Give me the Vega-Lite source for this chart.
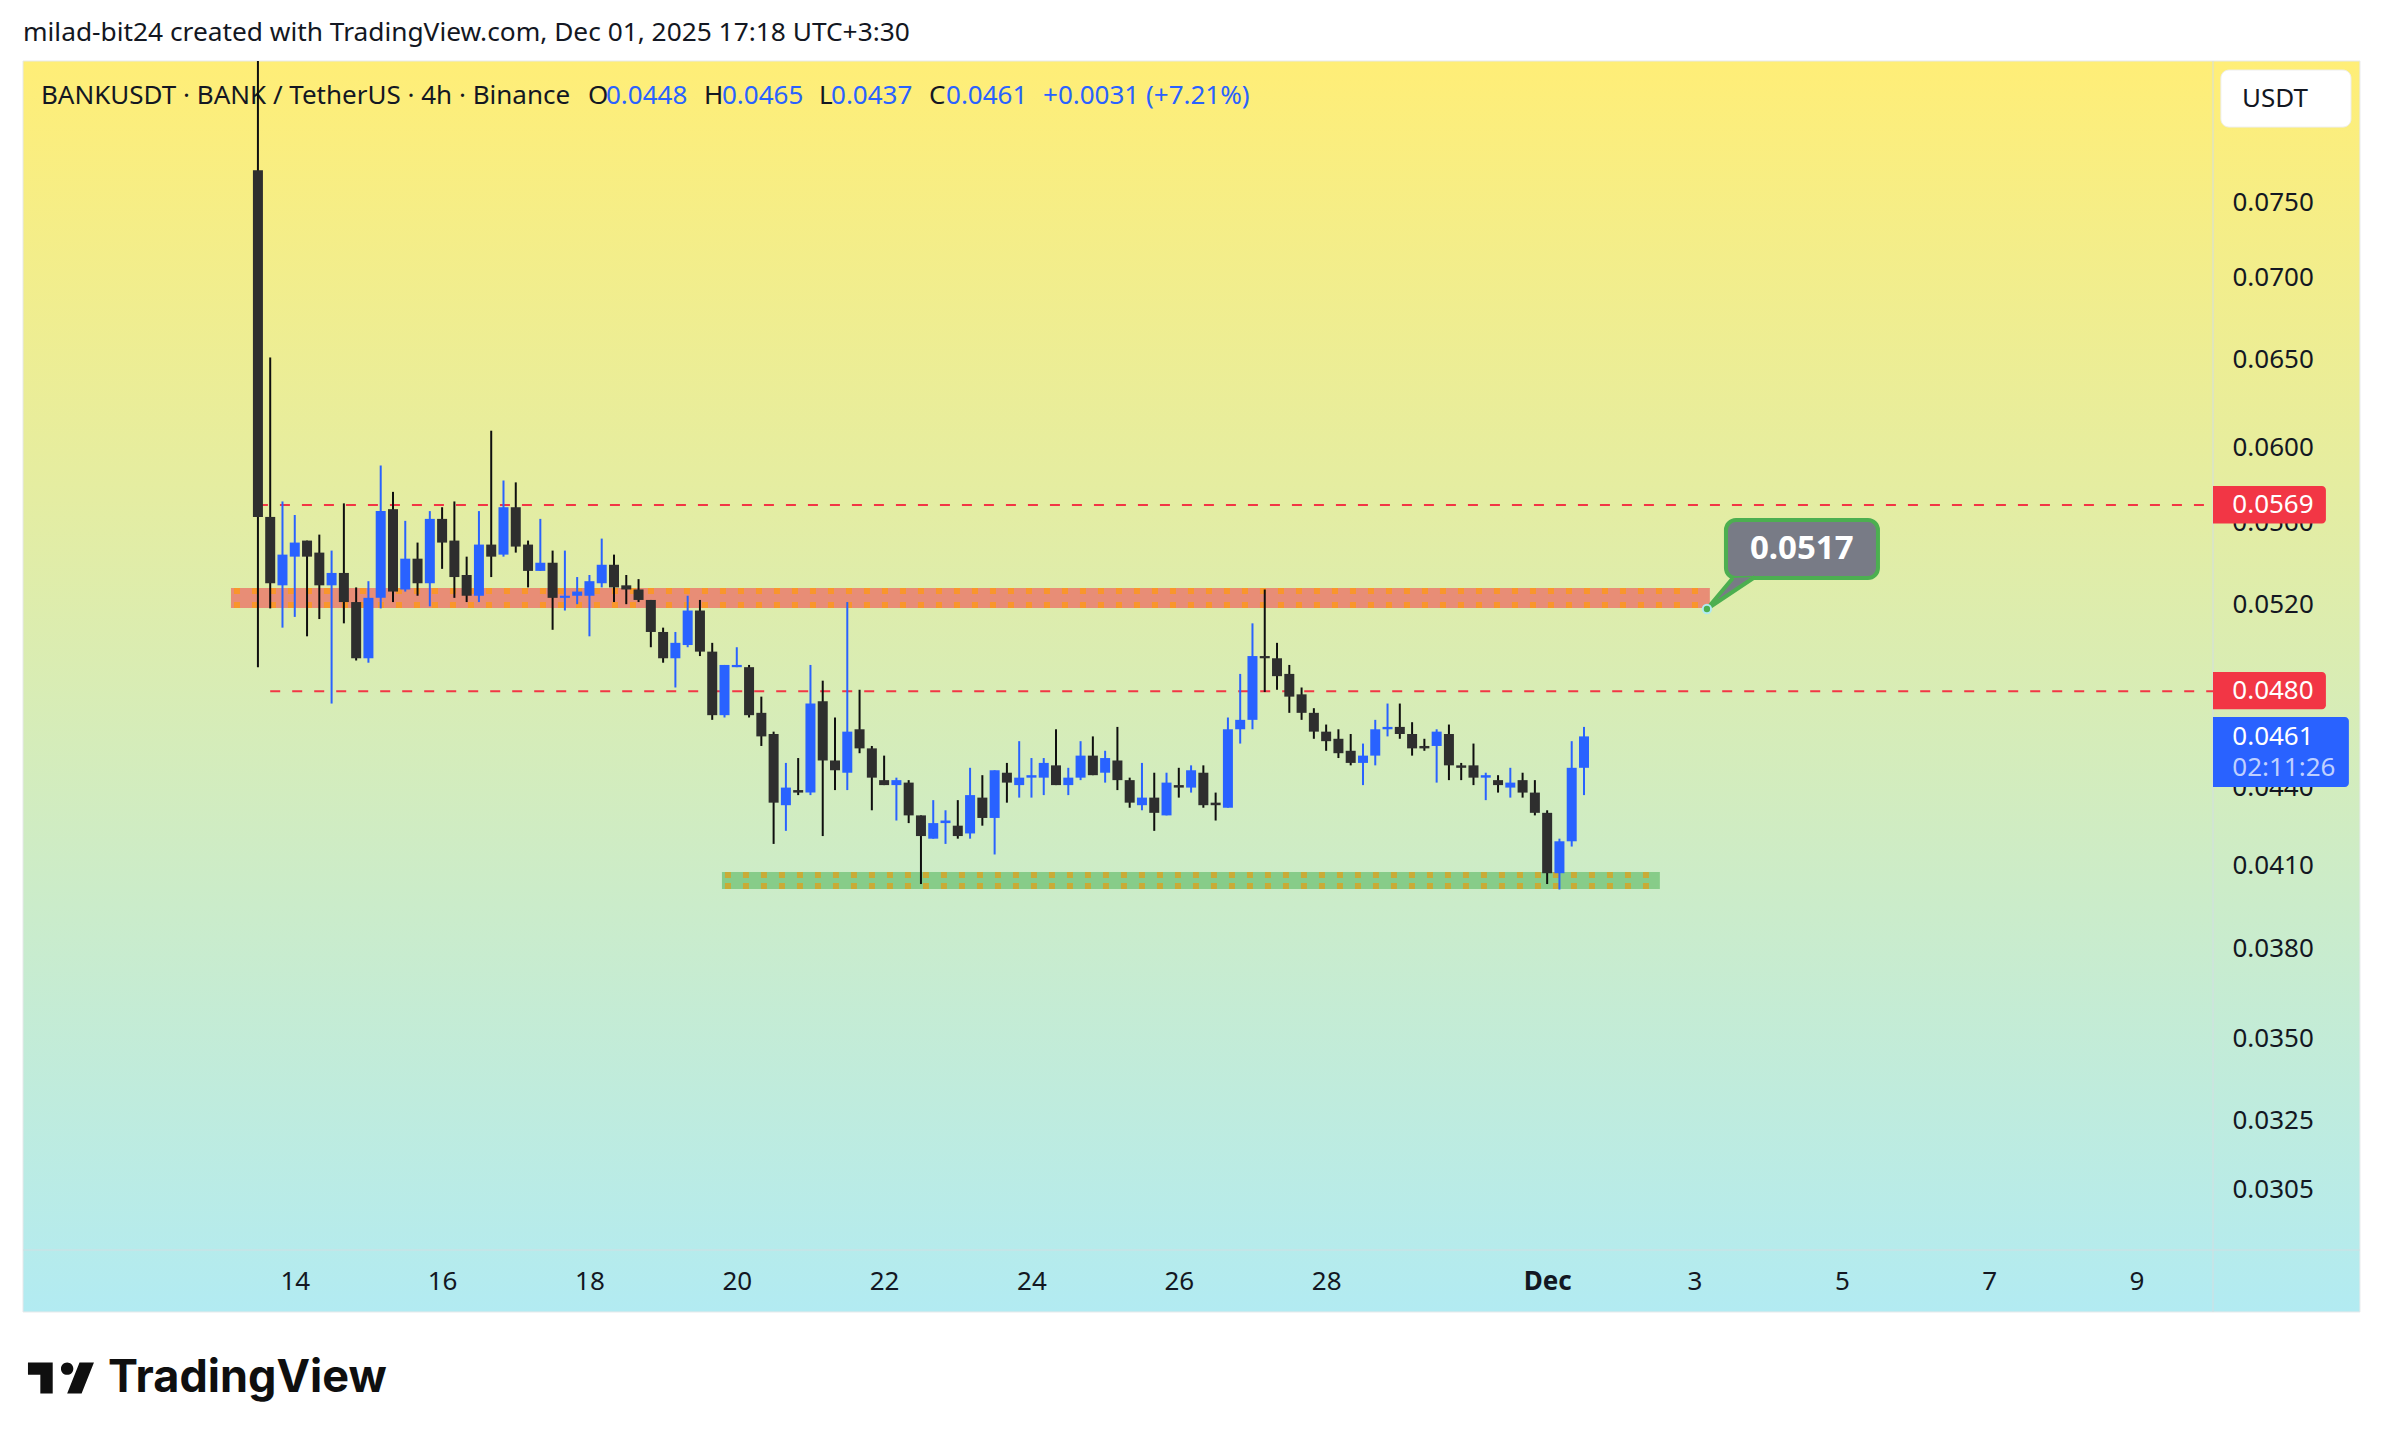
{"$schema":"https://vega.github.io/schema/vega-lite/v6.json","width":2190,"height":1189,"autosize":{"type":"none"},"padding":{"left":23,"top":61,"right":170,"bottom":197},"background":"#ffffff","view":{"stroke":null},
"title":{"text":"milad-bit24 created with TradingView.com, Dec 01, 2025 17:18 UTC+3:30","anchor":"start","frame":"group","offset":14,"font":"Noto Sans","fontSize":26.3,"fontWeight":"normal","color":"#131722"},
"config":{"text":{"font":"Noto Sans"}},
"datasets":{"candles":[
{"t":"2025-11-13T12:00Z","o":0.0772,"h":0.09,"l":0.0491,"c":0.0563},
{"t":"2025-11-13T16:00Z","o":0.0563,"h":0.0651,"l":0.0518,"c":0.053},
{"t":"2025-11-13T20:00Z","o":0.0529,"h":0.0571,"l":0.0509,"c":0.0544},
{"t":"2025-11-14T00:00Z","o":0.0543,"h":0.0564,"l":0.0514,"c":0.055},
{"t":"2025-11-14T04:00Z","o":0.0551,"h":0.0551,"l":0.0505,"c":0.0543},
{"t":"2025-11-14T08:00Z","o":0.0545,"h":0.0554,"l":0.0513,"c":0.0529},
{"t":"2025-11-14T12:00Z","o":0.0529,"h":0.0546,"l":0.0475,"c":0.0535},
{"t":"2025-11-14T16:00Z","o":0.0535,"h":0.057,"l":0.0511,"c":0.0521},
{"t":"2025-11-14T20:00Z","o":0.0521,"h":0.0528,"l":0.0494,"c":0.0495},
{"t":"2025-11-15T00:00Z","o":0.0495,"h":0.0531,"l":0.0493,"c":0.0523},
{"t":"2025-11-15T04:00Z","o":0.0523,"h":0.059,"l":0.0518,"c":0.0566},
{"t":"2025-11-15T08:00Z","o":0.0567,"h":0.0576,"l":0.0521,"c":0.0526},
{"t":"2025-11-15T12:00Z","o":0.0527,"h":0.0561,"l":0.0526,"c":0.0542},
{"t":"2025-11-15T16:00Z","o":0.0542,"h":0.055,"l":0.0524,"c":0.053},
{"t":"2025-11-15T20:00Z","o":0.053,"h":0.0566,"l":0.0519,"c":0.0562},
{"t":"2025-11-16T00:00Z","o":0.0562,"h":0.0568,"l":0.0537,"c":0.055},
{"t":"2025-11-16T04:00Z","o":0.0551,"h":0.0571,"l":0.0523,"c":0.0533},
{"t":"2025-11-16T08:00Z","o":0.0534,"h":0.0543,"l":0.0521,"c":0.0524},
{"t":"2025-11-16T12:00Z","o":0.0524,"h":0.0566,"l":0.0521,"c":0.0549},
{"t":"2025-11-16T16:00Z","o":0.0549,"h":0.0609,"l":0.0533,"c":0.0543},
{"t":"2025-11-16T20:00Z","o":0.0544,"h":0.0582,"l":0.0543,"c":0.0568},
{"t":"2025-11-17T00:00Z","o":0.0568,"h":0.0581,"l":0.0545,"c":0.0548},
{"t":"2025-11-17T04:00Z","o":0.0549,"h":0.0551,"l":0.0528,"c":0.0536},
{"t":"2025-11-17T08:00Z","o":0.0536,"h":0.0562,"l":0.0536,"c":0.054},
{"t":"2025-11-17T12:00Z","o":0.054,"h":0.0546,"l":0.0508,"c":0.0523},
{"t":"2025-11-17T16:00Z","o":0.0523,"h":0.0546,"l":0.0517,"c":0.0524},
{"t":"2025-11-17T20:00Z","o":0.0524,"h":0.0533,"l":0.052,"c":0.0526},
{"t":"2025-11-18T00:00Z","o":0.0524,"h":0.0534,"l":0.0505,"c":0.0531},
{"t":"2025-11-18T04:00Z","o":0.053,"h":0.0552,"l":0.0528,"c":0.0539},
{"t":"2025-11-18T08:00Z","o":0.0539,"h":0.0544,"l":0.0521,"c":0.0528},
{"t":"2025-11-18T12:00Z","o":0.0529,"h":0.0534,"l":0.052,"c":0.0527},
{"t":"2025-11-18T16:00Z","o":0.0527,"h":0.0532,"l":0.0521,"c":0.0522},
{"t":"2025-11-18T20:00Z","o":0.0522,"h":0.0522,"l":0.05,"c":0.0507},
{"t":"2025-11-19T00:00Z","o":0.0507,"h":0.0509,"l":0.0493,"c":0.0495},
{"t":"2025-11-19T04:00Z","o":0.0495,"h":0.0507,"l":0.0482,"c":0.0502},
{"t":"2025-11-19T08:00Z","o":0.0501,"h":0.0524,"l":0.05,"c":0.0517},
{"t":"2025-11-19T12:00Z","o":0.0517,"h":0.0522,"l":0.0496,"c":0.0498},
{"t":"2025-11-19T16:00Z","o":0.0498,"h":0.0502,"l":0.0468,"c":0.047},
{"t":"2025-11-19T20:00Z","o":0.047,"h":0.0492,"l":0.0469,"c":0.0492},
{"t":"2025-11-20T00:00Z","o":0.0491,"h":0.05,"l":0.0491,"c":0.0492},
{"t":"2025-11-20T04:00Z","o":0.0491,"h":0.0492,"l":0.0469,"c":0.047},
{"t":"2025-11-20T08:00Z","o":0.0471,"h":0.0478,"l":0.0457,"c":0.0461},
{"t":"2025-11-20T12:00Z","o":0.0462,"h":0.0463,"l":0.0418,"c":0.0434},
{"t":"2025-11-20T16:00Z","o":0.0433,"h":0.045,"l":0.0423,"c":0.044},
{"t":"2025-11-20T20:00Z","o":0.0439,"h":0.0452,"l":0.0437,"c":0.0438},
{"t":"2025-11-21T00:00Z","o":0.0438,"h":0.0492,"l":0.0437,"c":0.0475},
{"t":"2025-11-21T04:00Z","o":0.0476,"h":0.0485,"l":0.0421,"c":0.0451},
{"t":"2025-11-21T08:00Z","o":0.0451,"h":0.0469,"l":0.0439,"c":0.0447},
{"t":"2025-11-21T12:00Z","o":0.0446,"h":0.0521,"l":0.0439,"c":0.0463},
{"t":"2025-11-21T16:00Z","o":0.0464,"h":0.0481,"l":0.0454,"c":0.0456},
{"t":"2025-11-21T20:00Z","o":0.0456,"h":0.0457,"l":0.0431,"c":0.0444},
{"t":"2025-11-22T00:00Z","o":0.0443,"h":0.0453,"l":0.0441,"c":0.0441},
{"t":"2025-11-22T04:00Z","o":0.0441,"h":0.0444,"l":0.0427,"c":0.0443},
{"t":"2025-11-22T08:00Z","o":0.0442,"h":0.0443,"l":0.0426,"c":0.0429},
{"t":"2025-11-22T12:00Z","o":0.0429,"h":0.0429,"l":0.0403,"c":0.0421},
{"t":"2025-11-22T16:00Z","o":0.042,"h":0.0435,"l":0.042,"c":0.0426},
{"t":"2025-11-22T20:00Z","o":0.0426,"h":0.0431,"l":0.0418,"c":0.0427},
{"t":"2025-11-23T00:00Z","o":0.0425,"h":0.0435,"l":0.042,"c":0.0421},
{"t":"2025-11-23T04:00Z","o":0.0422,"h":0.0448,"l":0.042,"c":0.0437},
{"t":"2025-11-23T08:00Z","o":0.0436,"h":0.0445,"l":0.0425,"c":0.0428},
{"t":"2025-11-23T12:00Z","o":0.0428,"h":0.0447,"l":0.0414,"c":0.0447},
{"t":"2025-11-23T16:00Z","o":0.0446,"h":0.045,"l":0.0434,"c":0.0442},
{"t":"2025-11-23T20:00Z","o":0.0441,"h":0.0459,"l":0.0436,"c":0.0444},
{"t":"2025-11-24T00:00Z","o":0.0444,"h":0.0452,"l":0.0436,"c":0.0445},
{"t":"2025-11-24T04:00Z","o":0.0444,"h":0.0452,"l":0.0437,"c":0.045},
{"t":"2025-11-24T08:00Z","o":0.0449,"h":0.0464,"l":0.0441,"c":0.0441},
{"t":"2025-11-24T12:00Z","o":0.0441,"h":0.0448,"l":0.0437,"c":0.0444},
{"t":"2025-11-24T16:00Z","o":0.0444,"h":0.0459,"l":0.0443,"c":0.0453},
{"t":"2025-11-24T20:00Z","o":0.0453,"h":0.0461,"l":0.0445,"c":0.0445},
{"t":"2025-11-25T00:00Z","o":0.0446,"h":0.0455,"l":0.0442,"c":0.0452},
{"t":"2025-11-25T04:00Z","o":0.0451,"h":0.0465,"l":0.0439,"c":0.0443},
{"t":"2025-11-25T08:00Z","o":0.0443,"h":0.0444,"l":0.0432,"c":0.0434},
{"t":"2025-11-25T12:00Z","o":0.0433,"h":0.045,"l":0.0431,"c":0.0436},
{"t":"2025-11-25T16:00Z","o":0.0436,"h":0.0446,"l":0.0423,"c":0.043},
{"t":"2025-11-25T20:00Z","o":0.0429,"h":0.0446,"l":0.0429,"c":0.0442},
{"t":"2025-11-26T00:00Z","o":0.0441,"h":0.0448,"l":0.0436,"c":0.044},
{"t":"2025-11-26T04:00Z","o":0.044,"h":0.0449,"l":0.0438,"c":0.0447},
{"t":"2025-11-26T08:00Z","o":0.0446,"h":0.0449,"l":0.0432,"c":0.0433},
{"t":"2025-11-26T12:00Z","o":0.0434,"h":0.0438,"l":0.0427,"c":0.0433},
{"t":"2025-11-26T16:00Z","o":0.0432,"h":0.0469,"l":0.0432,"c":0.0464},
{"t":"2025-11-26T20:00Z","o":0.0464,"h":0.0488,"l":0.0458,"c":0.0468},
{"t":"2025-11-27T00:00Z","o":0.0468,"h":0.0511,"l":0.0464,"c":0.0496},
{"t":"2025-11-27T04:00Z","o":0.0496,"h":0.0527,"l":0.048,"c":0.0495},
{"t":"2025-11-27T08:00Z","o":0.0495,"h":0.0502,"l":0.0481,"c":0.0487},
{"t":"2025-11-27T12:00Z","o":0.0488,"h":0.0492,"l":0.0471,"c":0.0478},
{"t":"2025-11-27T16:00Z","o":0.0479,"h":0.0482,"l":0.0468,"c":0.0471},
{"t":"2025-11-27T20:00Z","o":0.0471,"h":0.0473,"l":0.046,"c":0.0463},
{"t":"2025-11-28T00:00Z","o":0.0463,"h":0.0466,"l":0.0455,"c":0.0459},
{"t":"2025-11-28T04:00Z","o":0.046,"h":0.0464,"l":0.0452,"c":0.0454},
{"t":"2025-11-28T08:00Z","o":0.0455,"h":0.0462,"l":0.0449,"c":0.045},
{"t":"2025-11-28T12:00Z","o":0.045,"h":0.0458,"l":0.0441,"c":0.0453},
{"t":"2025-11-28T16:00Z","o":0.0453,"h":0.0468,"l":0.0449,"c":0.0464},
{"t":"2025-11-28T20:00Z","o":0.0464,"h":0.0475,"l":0.0461,"c":0.0465},
{"t":"2025-11-29T00:00Z","o":0.0465,"h":0.0475,"l":0.046,"c":0.0462},
{"t":"2025-11-29T04:00Z","o":0.0462,"h":0.0467,"l":0.0453,"c":0.0456},
{"t":"2025-11-29T08:00Z","o":0.0457,"h":0.046,"l":0.0455,"c":0.0456},
{"t":"2025-11-29T12:00Z","o":0.0457,"h":0.0464,"l":0.0442,"c":0.0463},
{"t":"2025-11-29T16:00Z","o":0.0462,"h":0.0466,"l":0.0443,"c":0.0449},
{"t":"2025-11-29T20:00Z","o":0.0449,"h":0.045,"l":0.0443,"c":0.0448},
{"t":"2025-11-30T00:00Z","o":0.0449,"h":0.0458,"l":0.0441,"c":0.0444},
{"t":"2025-11-30T04:00Z","o":0.0444,"h":0.0446,"l":0.0435,"c":0.0445},
{"t":"2025-11-30T08:00Z","o":0.0443,"h":0.0445,"l":0.0438,"c":0.0441},
{"t":"2025-11-30T12:00Z","o":0.044,"h":0.0448,"l":0.0436,"c":0.0442},
{"t":"2025-11-30T16:00Z","o":0.0443,"h":0.0446,"l":0.0436,"c":0.0438},
{"t":"2025-11-30T20:00Z","o":0.0438,"h":0.0443,"l":0.0429,"c":0.043},
{"t":"2025-12-01T00:00Z","o":0.043,"h":0.0431,"l":0.0403,"c":0.0407},
{"t":"2025-12-01T04:00Z","o":0.0407,"h":0.042,"l":0.0401,"c":0.0419},
{"t":"2025-12-01T08:00Z","o":0.0419,"h":0.0459,"l":0.0417,"c":0.0448},
{"t":"2025-12-01T12:00Z","o":0.0448,"h":0.0465,"l":0.0437,"c":0.0461}
]},
"encoding":{
"x":{"field":"t","type":"temporal","title":null,"scale":{"type":"utc","domain":["2025-11-10T07:28:00Z","2025-12-10T00:55:00Z"],"nice":false,"padding":0},"axis":{"zindex":1,"domain":false,"ticks":false,"grid":false,"title":null,"labelFont":"Noto Sans","labelFontSize":26,"labelColor":"#131722","labelPadding":31,"labelBaseline":"middle","labelOverlap":false,"labelBound":false,"labelFlush":false,"labelExpr":"utcdate(datum.value)==1?'Dec':utcdate(datum.value)","labelFontWeight":{"condition":{"test":"utcdate(datum.value)==1","value":"bold"},"value":"normal"},"values":[{"year":2025,"month":11,"date":14,"utc":true},{"year":2025,"month":11,"date":16,"utc":true},{"year":2025,"month":11,"date":18,"utc":true},{"year":2025,"month":11,"date":20,"utc":true},{"year":2025,"month":11,"date":22,"utc":true},{"year":2025,"month":11,"date":24,"utc":true},{"year":2025,"month":11,"date":26,"utc":true},{"year":2025,"month":11,"date":28,"utc":true},{"year":2025,"month":12,"date":1,"utc":true},{"year":2025,"month":12,"date":3,"utc":true},{"year":2025,"month":12,"date":5,"utc":true},{"year":2025,"month":12,"date":7,"utc":true},{"year":2025,"month":12,"date":9,"utc":true}]}},
"y":{"field":"p","type":"quantitative","title":null,"scale":{"type":"log","domain":[0.028877,0.08528],"nice":false,"zero":false},"axis":{"orient":"right","zindex":1,"domain":false,"ticks":false,"grid":false,"title":null,"format":".4f","labelFont":"Noto Sans","labelFontSize":26,"labelColor":"#131722","labelPadding":19,"labelAlign":"left","labelBaseline":"middle","labelOverlap":false,"values":[0.075,0.07,0.065,0.06,0.052,0.041,0.038,0.035,0.0325,0.0305]}}
},
"layer":[
{"data":{"values":[{"t":"2025-11-10T07:28:00Z","t2":"2025-12-12T00:47:00Z","p":0.08528,"p2":0.027292}],"format":{"parse":{"t":"date","t2":"date"}}},"mark":{"type":"rect","clip":false,"stroke":"#e6e8ea","strokeWidth":1,"fill":{"gradient":"linear","x1":0,"y1":0,"x2":0,"y2":1,"stops":[{"offset":0,"color":"#ffee77"},{"offset":1,"color":"#b2ebf2"}]}},"encoding":{"x2":{"field":"t2"},"y2":{"field":"p2"}}},
{"data":{"values":[{"t":"2025-11-10T07:28:00Z","t2":"2025-12-12T00:47:00Z","p":0.028877}],"format":{"parse":{"t":"date","t2":"date"}}},"mark":{"type":"rule","clip":false,"color":"#d3dee2","strokeWidth":1},"encoding":{"x2":{"field":"t2"}}},
{"data":{"values":[{"t":"2025-12-10T00:55:00Z","p":0.08528,"p2":0.027292}],"format":{"parse":{"t":"date"}}},"mark":{"type":"rule","clip":false,"color":"#d3dee2","strokeWidth":1},"encoding":{"y2":{"field":"p2"}}},
{"data":{"values":[{"t":"2025-11-10T13:19:00Z","p":0.0826,"label":"BANKUSDT · BANK / TetherUS · 4h · Binance"},{"t":"2025-11-17T23:31:00Z","p":0.0826,"label":"O"},{"t":"2025-11-19T13:19:00Z","p":0.0826,"label":"H"},{"t":"2025-11-21T02:47:00Z","p":0.0826,"label":"L"},{"t":"2025-11-22T14:37:00Z","p":0.0826,"label":"C"}],"format":{"parse":{"t":"date"}}},"mark":{"type":"text","align":"left","baseline":"middle","fontSize":26,"color":"#131722","clip":false},"encoding":{"text":{"field":"label"}}},
{"data":{"values":[{"t":"2025-11-18T05:23:00Z","p":0.0826,"label":"0.0448"},{"t":"2025-11-19T19:10:00Z","p":0.0826,"label":"0.0465"},{"t":"2025-11-21T06:42:00Z","p":0.0826,"label":"0.0437"},{"t":"2025-11-22T20:10:00Z","p":0.0826,"label":"0.0461"},{"t":"2025-11-24T03:46:00Z","p":0.0826,"label":"+0.0031 (+7.21%)"}],"format":{"parse":{"t":"date"}}},"mark":{"type":"text","align":"left","baseline":"middle","fontSize":26,"color":"#2962ff","clip":false},"encoding":{"text":{"field":"label"}}},
{"data":{"values":[{"t":"2025-11-13T03:13:00Z","t2":"2025-12-03T05:00:00Z","p":0.05277,"p2":0.05182},{"t":"2025-11-19T19:10:00Z","t2":"2025-12-02T12:43:00Z","p":0.04074,"p2":0.04012}],"format":{"parse":{"t":"date","t2":"date"}}},"mark":{"type":"rect"},"encoding":{"x2":{"field":"t2"},"y2":{"field":"p2"},"color":{"condition":{"test":"datum.p>0.05","value":"#e88d76"},"value":"#87cc89"}}},
{"data":{"values":[{"t":"2025-11-13T03:13:00Z","t2":"2025-12-03T05:00:00Z","p":0.05263},{"t":"2025-11-13T03:13:00Z","t2":"2025-12-03T05:00:00Z","p":0.05196},{"t":"2025-11-19T19:10:00Z","t2":"2025-12-02T12:43:00Z","p":0.04063},{"t":"2025-11-19T19:10:00Z","t2":"2025-12-02T12:43:00Z","p":0.04023}],"format":{"parse":{"t":"date","t2":"date"}}},"mark":{"type":"rule","strokeWidth":6,"strokeDash":[6,12],"strokeDashOffset":15},"encoding":{"x2":{"field":"t2"},"color":{"condition":{"test":"datum.p>0.05","value":"#f9962b"},"value":"#c9ab36"}}},
{"data":{"values":[{"t":"2025-11-13T12:00:00Z","t2":"2025-12-10T00:55:00Z","p":0.05691},{"t":"2025-11-13T16:00:00Z","t2":"2025-12-10T00:55:00Z","p":0.04804}],"format":{"parse":{"t":"date","t2":"date"}}},"mark":{"type":"rule","color":"#f23645","strokeWidth":2,"strokeDash":[10,12]},"encoding":{"x2":{"field":"t2"}}},
{"data":{"name":"candles"},"mark":{"type":"rule","strokeWidth":2,"clip":true},"encoding":{"y":{"field":"l","type":"quantitative","title":null},"y2":{"field":"h"},"color":{"condition":{"test":"datum.c>=datum.o","value":"#2962ff"},"value":"#0f0f0f"}}},
{"data":{"name":"candles"},"mark":{"type":"bar","size":10,"clip":true},"encoding":{"y":{"field":"o","type":"quantitative","title":null},"y2":{"field":"c"},"color":{"condition":{"test":"datum.c>=datum.o","value":"#2962ff"},"value":"#2e2e2e"}}},
{"data":{"values":[{"t":"2025-12-03T10:15:00Z","t2":"2025-12-05T11:46:00Z","p":0.05614,"p2":0.05325}],"format":{"parse":{"t":"date","t2":"date"}}},"mark":{"type":"rect","fill":"#787b86","stroke":"#4caf50","strokeWidth":4,"cornerRadius":10},"encoding":{"x2":{"field":"t2"},"y2":{"field":"p2"}}},
{"data":{"values":[{"t":"2025-12-03T04:03:00Z","p":0.05177}],"format":{"parse":{"t":"date"}}},"mark":{"type":"point","filled":true,"opacity":1,"size":10000,"shape":"M0.52 -0.62L0 0L0.96 -0.64","fill":"#787b86","stroke":"#4caf50","strokeWidth":4}},
{"data":{"values":[{"t":"2025-12-03T04:03:00Z","p":0.05177}],"format":{"parse":{"t":"date"}}},"mark":{"type":"point","filled":true,"opacity":1,"size":70,"fill":"#4caf50","stroke":"#b2ebf2","strokeWidth":2}},
{"data":{"values":[{"t":"2025-12-04T10:57:00Z","p":0.05468,"label":"0.0517"}],"format":{"parse":{"t":"date"}}},"mark":{"type":"text","align":"center","baseline":"middle","fontSize":33,"fontWeight":"bold","color":"#ffffff"},"encoding":{"text":{"field":"label"}}},
{"data":{"values":[{"t":"2025-12-10T07:12:00Z","p":0.056,"label":"0.0560"},{"t":"2025-12-10T07:12:00Z","p":0.044,"label":"0.0440"}],"format":{"parse":{"t":"date"}}},"mark":{"type":"text","align":"left","baseline":"middle","fontSize":26,"color":"#131722","clip":false},"encoding":{"text":{"field":"label"}}},
{"data":{"values":[{"t":"2025-12-10T00:55:00Z","t2":"2025-12-11T13:42:00Z","p":0.05791,"p2":0.05597},{"t":"2025-12-10T00:55:00Z","t2":"2025-12-11T13:42:00Z","p":0.04888,"p2":0.04725}],"format":{"parse":{"t":"date","t2":"date"}}},"mark":{"type":"rect","clip":false,"color":"#f23645","cornerRadiusTopRight":4,"cornerRadiusBottomRight":4},"encoding":{"x2":{"field":"t2"},"y2":{"field":"p2"}}},
{"data":{"values":[{"t":"2025-12-10T00:55:00Z","t2":"2025-12-11T21:11:00Z","p":0.04692,"p2":0.04402}],"format":{"parse":{"t":"date","t2":"date"}}},"mark":{"type":"rect","clip":false,"color":"#2962ff","cornerRadiusTopRight":4,"cornerRadiusBottomRight":4},"encoding":{"x2":{"field":"t2"},"y2":{"field":"p2"}}},
{"data":{"values":[{"t":"2025-12-10T07:12:00Z","p":0.05691,"label":"0.0569"},{"t":"2025-12-10T07:12:00Z","p":0.04804,"label":"0.0480"},{"t":"2025-12-10T07:12:00Z","p":0.04607,"label":"0.0461"}],"format":{"parse":{"t":"date"}}},"mark":{"type":"text","align":"left","baseline":"middle","fontSize":26,"color":"#ffffff","clip":false},"encoding":{"text":{"field":"label"}}},
{"data":{"values":[{"t":"2025-12-10T07:12:00Z","p":0.04479,"label":"02:11:26"}],"format":{"parse":{"t":"date"}}},"mark":{"type":"text","align":"left","baseline":"middle","fontSize":26,"color":"#bfd0ff","clip":false},"encoding":{"text":{"field":"label"}}},
{"data":{"values":[{"t":"2025-12-10T03:30:00Z","t2":"2025-12-11T21:52:00Z","p":0.08458,"p2":0.0803}],"format":{"parse":{"t":"date","t2":"date"}}},"mark":{"type":"rect","clip":false,"fill":"#ffffff","stroke":"#eeeeee","strokeWidth":1,"cornerRadius":8},"encoding":{"x2":{"field":"t2"},"y2":{"field":"p2"}}},
{"data":{"values":[{"t":"2025-12-10T10:20:00Z","p":0.08237,"label":"USDT"}],"format":{"parse":{"t":"date"}}},"mark":{"type":"text","align":"left","baseline":"middle","fontSize":26,"color":"#131722","clip":false},"encoding":{"text":{"field":"label"}}},
{"data":{"values":[{"t":"2025-11-10T19:50:00Z","p":0.0257}],"format":{"parse":{"t":"date"}}},"mark":{"type":"point","filled":true,"clip":false,"opacity":1,"size":4356,"fill":"#0f0f0f","stroke":null,"shape":"M-0.25 -0.469H-1V-0.094H-0.625V0.469H-0.25ZM0.625 0.469H0.1875L0.5625 -0.469H1ZM0.1875 -0.094A0.1875 0.1875 0 1 0 0.1875 -0.469A0.1875 0.1875 0 0 0 0.1875 -0.094Z"}},
{"data":{"values":[{"t":"2025-11-11T11:11:00Z","p":0.0257,"label":"TradingView"}],"format":{"parse":{"t":"date"}}},"mark":{"type":"text","align":"left","baseline":"middle","font":"Inter","fontSize":45,"fontWeight":700,"color":"#0f0f0f","clip":false},"encoding":{"text":{"field":"label"}}}
]}
